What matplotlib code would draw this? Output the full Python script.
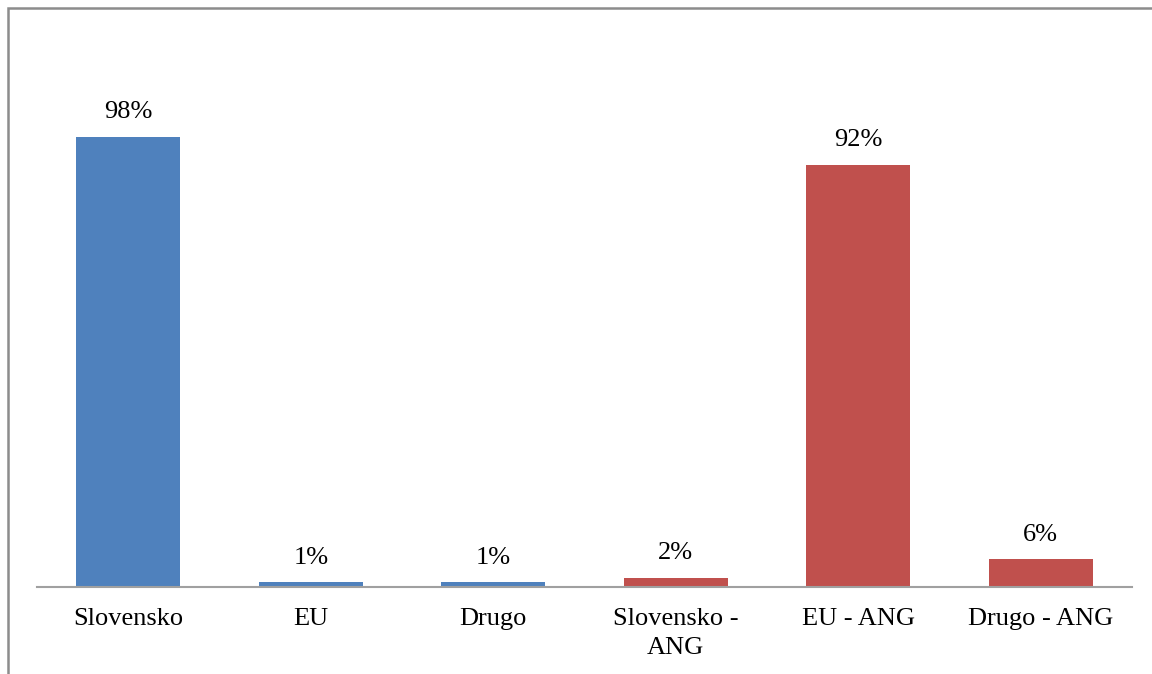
import numpy as np
import matplotlib.pyplot as plt
from matplotlib.patches import Rectangle

# Data
categories = ["Slovensko", "EU", "Drugo", "Slovensko -\nANG", "EU - ANG", "Drugo - ANG"]
values = [98, 1, 1, 2, 92, 6]
colors = ["#4F81BD"] * 3 + ["#C0504D"] * 3

plt.rcParams['font.family'] = ['Liberation Serif', 'DejaVu Serif']

W, H = 1152, 674
fig = plt.figure(figsize=(W / 100, H / 100), dpi=100)
ax = fig.add_axes([37 / W, 1 - 587 / H, (1132 - 37) / W, (587 - 36) / H])

x = np.arange(len(categories))
bars = ax.bar(x, values, width=0.57, color=colors)

for b, v in zip(bars, values):
    ax.annotate(f"{v}%", (b.get_x() + b.get_width() / 2, v),
                xytext=(0, 10), textcoords="offset points",
                ha="center", va="bottom", fontsize=19)

ax.set_xlim(-0.5, len(categories) - 0.5)
ax.set_ylim(0, 120)
ax.set_yticks([])
ax.set_xticks(x)
ax.set_xticklabels(categories, fontsize=19, linespacing=1.4)
ax.tick_params(axis="x", length=0, pad=15)
for s in ["top", "right", "left"]:
    ax.spines[s].set_visible(False)
ax.spines["bottom"].set_color("#A0A0A0")
ax.spines["bottom"].set_linewidth(1.5)

# chart frame (cropped at right and bottom)
fig.patches.append(Rectangle((7.5 / W, -0.1), 1.2, 1 - 7.5 / H + 0.1,
                             transform=fig.transFigure, fill=False,
                             edgecolor="#8C8C8C", linewidth=1.8))

fig.savefig("out.png", dpi=100)
